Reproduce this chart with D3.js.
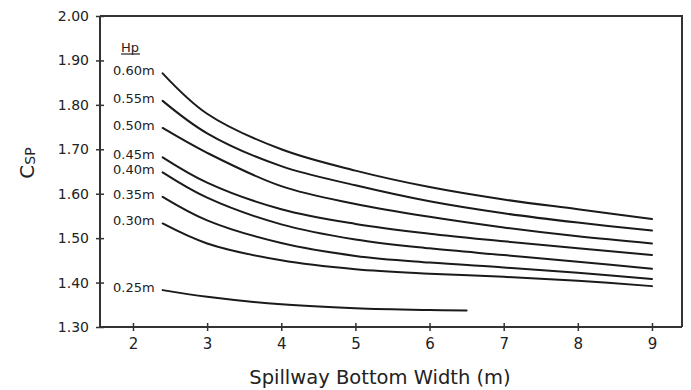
<!DOCTYPE html>
<html>
<head>
<meta charset="utf-8">
<script src="https://cdn.jsdelivr.net/npm/d3@7"></script>
<style>
  html, body { margin: 0; padding: 0; background: #fff; }
  svg { display: block; }
  text { font-family: "DejaVu Sans", sans-serif; fill: #222; }
</style>
</head>
<body>
<svg id="chart" width="691" height="390"></svg>
<script>
// ---- data ----
const widths    = [2.4, 3, 4, 5, 6, 7, 8, 9];
const widths025 = [2.4, 3, 4, 5, 6, 6.5];
const hpLabels  = ["0.60m", "0.55m", "0.50m", "0.45m", "0.40m", "0.35m", "0.30m", "0.25m"];
const c060 = [1.871, 1.780, 1.700, 1.652, 1.615, 1.587, 1.565, 1.543];
const c055 = [1.809, 1.736, 1.662, 1.619, 1.583, 1.556, 1.535, 1.517];
const c050 = [1.748, 1.692, 1.617, 1.577, 1.548, 1.524, 1.504, 1.488];
const c045 = [1.682, 1.625, 1.565, 1.532, 1.510, 1.493, 1.477, 1.462];
const c040 = [1.648, 1.591, 1.531, 1.497, 1.477, 1.462, 1.447, 1.431];
const c035 = [1.593, 1.540, 1.489, 1.460, 1.445, 1.434, 1.422, 1.408];
const c030 = [1.533, 1.488, 1.450, 1.430, 1.420, 1.413, 1.404, 1.392];
const c025 = [1.383, 1.368, 1.351, 1.342, 1.338, 1.337];
const xTicks = [2, 3, 4, 5, 6, 7, 8, 9];
const yTicks = [1.30, 1.40, 1.50, 1.60, 1.70, 1.80, 1.90, 2.00];
const legendTitle = "Hp";
const xTitle = "Spillway Bottom Width (m)";
const yTitleMain = "C";
const yTitleSub = "SP";

const seriesX = [widths, widths, widths, widths, widths, widths, widths, widths025];
const seriesY = [c060, c055, c050, c045, c040, c035, c030, c025];

// ---- layout ----
const svg = d3.select("#chart");
const pLeft = 100, pRight = 682, pTop = 16, pBottom = 327;

const x = d3.scaleLinear().domain([1.555, 9.405]).range([pLeft, pRight]);
const y = d3.scaleLinear().domain([1.30, 2.00]).range([pBottom, pTop]);

// frame (top and right)
svg.append("path")
  .attr("d", `M${pLeft},${pTop}H${pRight}V${pBottom}`)
  .attr("fill", "none").attr("stroke", "#333").attr("stroke-width", 2);

// x axis
const gx = svg.append("g").attr("transform", `translate(0,${pBottom})`)
  .call(d3.axisBottom(x).tickValues(xTicks).tickFormat(d3.format("d")).tickSize(4).tickPadding(7));
gx.select(".domain").attr("d", `M${pLeft},0H${pRight}`).attr("stroke", "#333").attr("stroke-width", 2);
gx.selectAll(".tick line").attr("y1", -4).attr("y2", 4).attr("stroke", "#333").attr("stroke-width", 1.5);
gx.selectAll(".tick text").attr("font-size", 15).attr("font-family", "DejaVu Sans").attr("fill", "#222");

// y axis
const gy = svg.append("g").attr("transform", `translate(${pLeft},0)`)
  .call(d3.axisLeft(y).tickValues(yTicks).tickFormat(d3.format(".2f")).tickSize(4).tickPadding(7));
gy.select(".domain").attr("d", `M0,${pBottom}V${pTop}`).attr("stroke", "#333").attr("stroke-width", 2);
gy.selectAll(".tick line").attr("x1", 4).attr("x2", -4).attr("stroke", "#333").attr("stroke-width", 1.5);
gy.selectAll(".tick text").attr("font-size", 14).attr("font-family", "DejaVu Sans").attr("fill", "#222");

// curves
const line = d3.line().x(d => x(d[0])).y(d => y(d[1])).curve(d3.curveCatmullRom.alpha(0.5));
seriesY.forEach((vals, i) => {
  const pts = vals.map((v, j) => [seriesX[i][j], v]);
  svg.append("path").datum(pts)
    .attr("d", line)
    .attr("fill", "none").attr("stroke", "#1a1a1a").attr("stroke-width", 2)
    .attr("stroke-linecap", "round");
  svg.append("text")
    .attr("x", x(seriesX[i][0]) - 8)
    .attr("y", y(vals[0]) - 1.5)
    .attr("text-anchor", "end")
    .attr("dominant-baseline", "middle")
    .attr("font-size", 13)
    .text(hpLabels[i]);
});

// legend title "Hp" underlined
svg.append("text")
  .attr("x", 130).attr("y", 48)
  .attr("text-anchor", "middle").attr("dominant-baseline", "middle")
  .attr("font-size", 13).text(legendTitle);
svg.append("line").attr("x1", 121).attr("x2", 140).attr("y1", 54).attr("y2", 54)
  .attr("stroke", "#222").attr("stroke-width", 1.2);

// x title
svg.append("text")
  .attr("x", 380).attr("y", 384)
  .attr("text-anchor", "middle")
  .attr("font-size", 19.5)
  .text(xTitle);

// y title
const yt = svg.append("text")
  .attr("transform", "translate(34,163) rotate(-90)")
  .attr("text-anchor", "middle")
  .attr("font-size", 20);
yt.append("tspan").text(yTitleMain);
yt.append("tspan").attr("font-size", 14).attr("dy", 1).text(yTitleSub);
</script>
</body>
</html>
